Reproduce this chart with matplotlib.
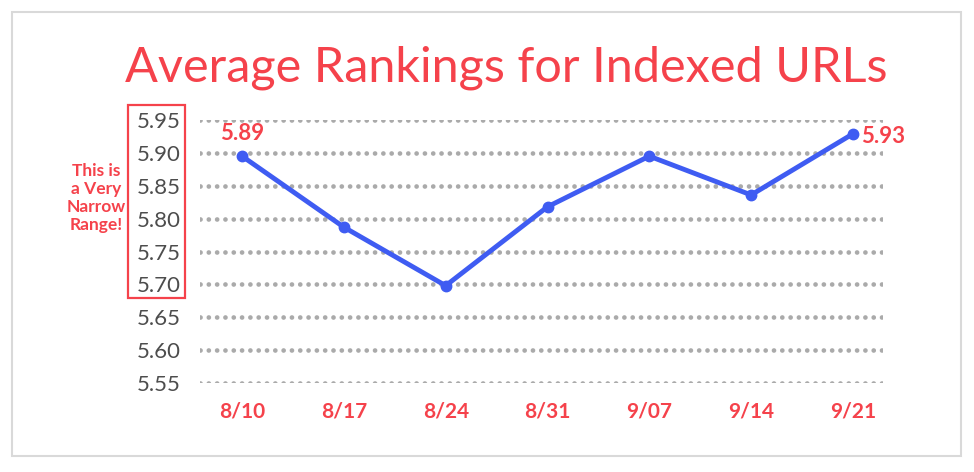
import matplotlib
matplotlib.use("Agg")
import matplotlib.pyplot as plt
from matplotlib.patches import Rectangle

dates = ["8/10", "8/17", "8/24", "8/31", "9/07", "9/14", "9/21"]
rankings = [5.895, 5.787, 5.698, 5.818, 5.895, 5.836, 5.929]
y_ticks = [5.55, 5.60, 5.65, 5.70, 5.75, 5.80, 5.85, 5.90, 5.95]
first_label = "5.89"
last_label = "5.93"

RED = "#f5424b"
BLUE = "#3f5cf2"
GRAY = "#4d4d4d"

plt.rcParams['font.family'] = ['Lato', 'DejaVu Sans']

fig = plt.figure(figsize=(9.74, 4.72), dpi=100)
W, H = 974, 472
ax = fig.add_axes([200 / W, (H - 383) / H, (883 - 200) / W, (383 - 120) / H])

x = list(range(len(dates)))
ax.plot(x, rankings, color=BLUE, lw=3.5, marker="o", ms=7.5, clip_on=False, zorder=3,
        solid_capstyle="round")
ax.set_xlim(-0.413, 6.295)
ax.set_ylim(5.55, 5.95)
ax.set_yticks(y_ticks)
ax.set_yticklabels([f"{v:.2f}" for v in y_ticks])
ax.set_xticks(x)
ax.set_xticklabels(dates)
for s in ax.spines.values():
    s.set_visible(False)
ax.tick_params(axis="y", length=0, pad=14, labelsize=16, labelcolor=GRAY)
ax.tick_params(axis="x", length=0, pad=13, labelsize=15, labelcolor=RED)
for lab in ax.get_xticklabels():
    lab.set_fontweight("bold")
for v in y_ticks:
    ax.axhline(v, color="#aaaaaa", lw=3.4, ls=(0, (0.01, 1.75)), dash_capstyle="round",
               zorder=1)

ax.annotate(first_label, (x[0], rankings[0]), xytext=(0, 9), textcoords="offset points",
            ha="center", va="bottom", color=RED, fontsize=16, fontweight="bold")
ax.annotate(last_label, (x[-1], rankings[-1]), xytext=(6, -2), textcoords="offset points",
            ha="left", va="center", color=RED, fontsize=16, fontweight="bold")

fig.text(506 / W, 1 - 68 / H, "Average Rankings for Indexed URLs", ha="center", va="center",
         color=RED, fontsize=35)

fig.text(96 / W, 1 - 198 / H, "This is\na Very\nNarrow\nRange!", ha="center", va="center",
         color=RED, fontsize=12.5, fontweight="bold", linespacing=1.15)

fig.patches.append(Rectangle((128 / W, 1 - 298 / H), (185 - 128) / W, (298 - 105) / H,
                             transform=fig.transFigure, fill=False, ec=RED, lw=1.6))
fig.patches.append(Rectangle((12 / W, 1 - 456 / H), (961 - 12) / W, (456 - 12) / H,
                             transform=fig.transFigure, fill=False, ec="#d9d9d9", lw=1.5))

fig.savefig("out.png", dpi=100)
